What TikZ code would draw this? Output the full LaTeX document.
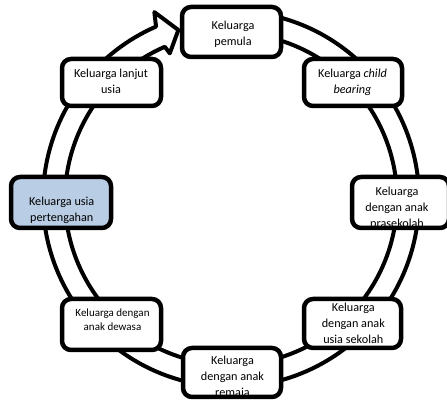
\documentclass[tikz,border=0pt]{standalone}
\usepackage{fontspec}
\setmainfont{Carlito}
\usetikzlibrary{shadows}
\definecolor{paleblue}{HTML}{B9CDE5}
\tikzset{
  ring/.style={draw=black, fill=white, line width=4pt, line join=round},
  stagebox/.style={draw=black, fill=white, line width=4.5pt, rounded corners=9pt, inner sep=0pt},
  stagetext/.style={anchor=north, align=center, inner sep=0pt, font=\fontsize{12.2}{16}\selectfont},
  smalltext/.style={anchor=north, align=center, inner sep=0pt, font=\fontsize{11}{13.5}\selectfont},
}
\begin{document}
\begin{tikzpicture}[x=1pt,y=1pt]
\useasboundingbox (0,0) rectangle (447,401);
% circular arrow
\coordinate (C) at (231,202);
\draw[ring] ([shift={(C)}]80:188pt) arc[start angle=80, end angle=-246.5, radius=188pt]
  -- ([shift={(C)}]112.3:202pt) -- ([shift={(C)}]107.3:177pt) -- ([shift={(C)}]112.8:158pt)
  -- ([shift={(C)}]113.5:166pt) arc[start angle=-246.5, end angle=80, radius=166pt] -- cycle;

% boxes
\node[stagebox, minimum width=99pt, minimum height=50pt] (pemula) at (231.5,369) {};
\node[stagetext] (pemulaT) at (233,380.6) {Keluarga\\pemula};

\node[stagebox, minimum width=99pt, minimum height=47pt] (lanjut) at (111.5,318.5) {};
\node[stagetext] (lanjutT) at (111,332.6) {Keluarga lanjut\\usia};

\node[stagebox, minimum width=98pt, minimum height=47pt] (child) at (353,318.5) {};
\node[stagetext] (childT) at (352.5,332.6) {Keluarga \textit{child}\\\textit{bearing}};

\node[stagebox, fill=paleblue, minimum width=100pt, minimum height=51pt] (tengah) at (61,198.5) {};
\node[stagetext] (tengahT) at (61.7,204.6) {Keluarga usia\\pertengahan};

\node[stagebox, minimum width=97pt, minimum height=51pt] (prasekolah) at (400.5,198.5) {};
\begin{scope}
\clip[rounded corners=7pt] (354.25,175.75) rectangle (446.75,221.75);
\node[stagetext] (prasekolahT) at (397,214.6) {Keluarga\\dengan anak\\prasekolah};
\end{scope}

\node[stagebox, drop shadow={opacity=0.3, shadow xshift=-1.5pt, shadow yshift=-2pt}, minimum width=99pt, minimum height=51pt] (dewasa) at (111.5,76.5) {};
\node[smalltext] (dewasaT) at (112.5,92) {Keluarga dengan\\anak dewasa};

\node[stagebox, minimum width=97pt, minimum height=49pt] (sekolah) at (352.5,77.5) {};
\begin{scope}
\clip[rounded corners=7pt] (306.25,55.25) rectangle (398.75,99.75);
\node[stagetext] (sekolahT) at (353.3,97.8) {Keluarga\\dengan anak\\usia sekolah};
\end{scope}

\node[stagebox, minimum width=98pt, minimum height=49pt] (remaja) at (232,28.5) {};
\begin{scope}
\clip[rounded corners=7pt] (185.25,6.25) rectangle (278.75,50.75);
\node[stagetext] (remajaT) at (232.5,45.6) {Keluarga\\dengan anak\\remaja};
\end{scope}
\end{tikzpicture}
\end{document}
